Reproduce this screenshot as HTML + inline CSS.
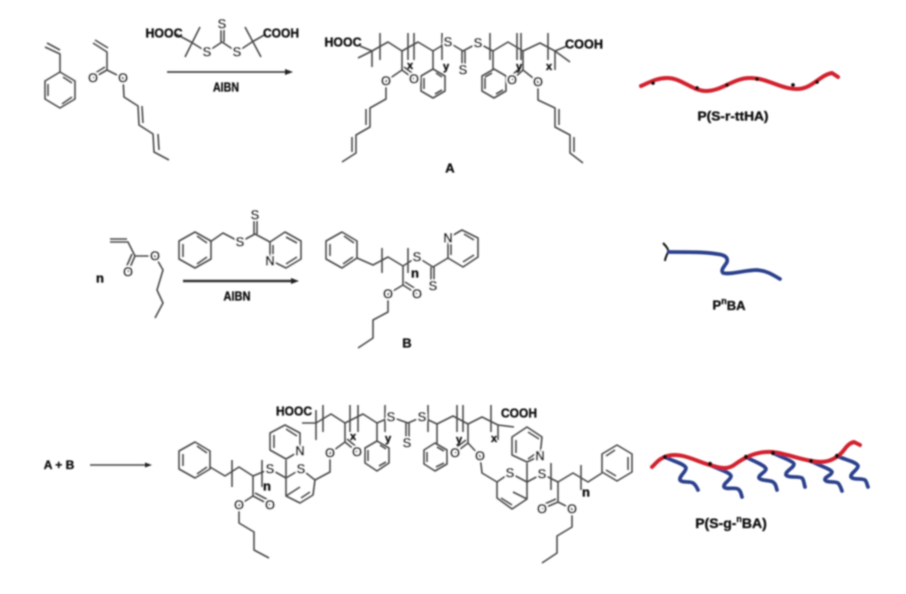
<!DOCTYPE html>
<html><head><meta charset="utf-8"><style>
html,body{margin:0;padding:0;background:#fff;width:906px;height:594px;overflow:hidden}
svg{display:block}
.b polyline,.b polygon,.b line{fill:none;stroke:#4a4a4a;stroke-width:1.6;stroke-linejoin:round}
.a text{font:bold 13.5px "Liberation Sans",sans-serif;fill:#111;text-anchor:middle;dominant-baseline:central;stroke:#fff;stroke-width:3px;paint-order:stroke}
.t text{font:bold 13px "Liberation Sans",sans-serif;fill:#111;stroke:#111;stroke-width:.35px;text-anchor:middle;dominant-baseline:central}
.t tspan.s{font-size:9px}
.red{fill:none;stroke:#d2232f;stroke-width:4;stroke-linecap:round;stroke-linejoin:round}
.blue{fill:none;stroke:#2b3f8c;stroke-width:3.7;stroke-linecap:round;stroke-linejoin:round}
</style></head><body>
<svg width="906" height="594" viewBox="0 0 906 594" xmlns="http://www.w3.org/2000/svg">
<defs><filter id="f" x="-2%" y="-2%" width="104%" height="104%"><feGaussianBlur stdDeviation="0.7"/></filter></defs>
<g filter="url(#f)">
<g class="b">
<!-- styrene -->
<polyline points="45,47 60,54 60,72"/><line x1="47" y1="43" x2="60" y2="50"/>
<polygon points="60,72 75,81 75,99 60,108 45,99 45,81"/>
<line x1="63" y1="77" x2="72" y2="83"/><line x1="72" y1="97" x2="62" y2="104"/><line x1="48" y1="84" x2="48" y2="96"/>
<!-- acrylate monomer -->
<polyline points="93,43 107,52 107,70 123,78 124,97 138,106 139,125 153,134 154,152 169,160"/>
<line x1="95" y1="40" x2="108" y2="48"/><line x1="107" y1="70" x2="93" y2="78"/><line x1="105" y1="67" x2="92" y2="75"/>
<line x1="142" y1="106" x2="143" y2="123"/><line x1="158" y1="134" x2="159" y2="150"/>
<!-- RAFT 1 -->
<polyline points="176,34 191,42 207,52 222,42 237,52 252,42 266,34"/>
<line x1="200" y1="27" x2="185" y2="57"/><line x1="245" y1="27" x2="261" y2="57"/>
<line x1="221" y1="42" x2="221" y2="24"/><line x1="224" y1="42" x2="224" y2="24"/>
<!-- product A -->
<polyline points="360,46 372,51 388,42 402,51 418,42 433,51 448,42 463,51 478,43 493,51 508,42 523,51 540,43 555,51 567,46"/>
<polyline points="358,58 372,51 372,67"/><polyline points="570,62 555,51 555,70"/>
<polyline points="380,33 380,60"/><polyline points="408,33 408,60"/><polyline points="414,33 414,60"/><polyline points="442,33 442,60"/>
<polyline points="490,33 490,60"/><polyline points="517,33 517,60"/><polyline points="521,33 521,60"/><polyline points="548,33 548,60"/>
<line x1="462" y1="51" x2="462" y2="68"/><line x1="465" y1="51" x2="465" y2="68"/>
<polyline points="402,51 402,70 386,81 386,99 370,108 370,127 356,135 356,153 342,162"/>
<line x1="402" y1="70" x2="414" y2="79"/><line x1="404" y1="67" x2="416" y2="76"/>
<line x1="366" y1="109" x2="366" y2="125"/><line x1="352" y1="137" x2="352" y2="152"/>
<polyline points="433,51 433,70"/>
<polygon points="433,69 445,76 445,91 433,98 421,91 421,76"/><line x1="436" y1="73" x2="442" y2="77"/><line x1="424" y1="78" x2="424" y2="89"/><line x1="435" y1="94" x2="442" y2="90"/>
<polyline points="493,51 493,70"/>
<polygon points="494,69 506,76 506,91 494,98 482,91 482,76"/><line x1="485" y1="78" x2="485" y2="89"/><line x1="492" y1="73" x2="485" y2="77"/><line x1="503" y1="90" x2="496" y2="94"/>
<polyline points="523,51 523,70 538,82 538,100 555,108 555,127 570,135 570,153 583,163"/>
<line x1="523" y1="70" x2="512" y2="80"/><line x1="521" y1="67" x2="510" y2="77"/>
<line x1="559" y1="109" x2="559" y2="125"/><line x1="574" y1="137" x2="574" y2="152"/>
<!-- butyl acrylate -->
<polyline points="110,242 128,242 135,256 155,256 163,270 157,290 163,303 155,318"/>
<line x1="110" y1="239" x2="127" y2="239"/><line x1="135" y1="256" x2="128" y2="272"/><line x1="132" y1="254" x2="125" y2="270"/>
<!-- RAFT 2 -->
<polygon points="195,232 211,241 211,259 195,268 179,259 179,241"/>
<line x1="183" y1="244" x2="183" y2="257"/><line x1="197" y1="236" x2="207" y2="243"/><line x1="207" y1="257" x2="197" y2="264"/>
<polyline points="210,242 223,233 240,242 255,234 270,242"/>
<line x1="254" y1="234" x2="254" y2="215"/><line x1="257" y1="234" x2="257" y2="215"/>
<polygon points="270,242 285,232 301,241 301,259 286,268 270,260"/>
<line x1="273" y1="245" x2="273" y2="257"/><line x1="286" y1="237" x2="297" y2="243"/><line x1="297" y1="257" x2="286" y2="264"/>
<!-- product B -->
<polygon points="342,232 357,241 357,258 342,268 326,259 326,241"/>
<line x1="330" y1="244" x2="330" y2="256"/><line x1="344" y1="236" x2="354" y2="243"/><line x1="353" y1="257" x2="343" y2="264"/>
<polyline points="357,258 373,265 388,257 403,266 417,257 433,267 448,258"/>
<line x1="382" y1="248" x2="382" y2="273"/><line x1="408" y1="248" x2="408" y2="273"/>
<polyline points="403,266 403,285 388,294 388,312 373,320 373,338 358,348"/>
<line x1="403" y1="285" x2="417" y2="294"/><line x1="405" y1="282" x2="419" y2="291"/>
<line x1="431" y1="267" x2="431" y2="285"/><line x1="434" y1="267" x2="434" y2="285"/>
<polygon points="448,238 462,230 478,238 478,257 463,267 448,258"/>
<line x1="451" y1="243" x2="451" y2="255"/><line x1="464" y1="234" x2="474" y2="240"/><line x1="474" y1="255" x2="463" y2="262"/>
<!-- bottom product: center -->
<polyline points="302,423 316,423 331,414 345,423 363,414 377,423 391,417 408,423 422,417 437,424 453,416 468,424 482,417 498,425 514,427"/>
<line x1="316" y1="410" x2="316" y2="440"/><line x1="498" y1="425" x2="498" y2="440"/>
<line x1="323" y1="405" x2="323" y2="432"/><line x1="350" y1="405" x2="350" y2="432"/><line x1="358" y1="405" x2="358" y2="432"/><line x1="385" y1="405" x2="385" y2="432"/>
<line x1="428" y1="405" x2="428" y2="432"/><line x1="457" y1="405" x2="457" y2="432"/><line x1="463" y1="405" x2="463" y2="432"/><line x1="491" y1="405" x2="491" y2="432"/>
<line x1="406" y1="423" x2="406" y2="443"/><line x1="409" y1="423" x2="409" y2="443"/>
<!-- left ester + ring -->
<polyline points="345,423 345,442 330,453 330,472 315,480 313,495 300,503 286,496 286,478 301,469 315,480"/>
<line x1="345" y1="442" x2="357" y2="452"/><line x1="347" y1="439" x2="359" y2="449"/>
<line x1="310" y1="492" x2="301" y2="498"/><line x1="286" y1="496" x2="300" y2="487"/>
<polyline points="377,423 377,442"/>
<polygon points="377,441 389,448 389,463 377,471 365,463 365,448"/><line x1="368" y1="450" x2="368" y2="461"/><line x1="380" y1="445" x2="386" y2="449"/><line x1="386" y1="462" x2="379" y2="466"/>
<polyline points="286,478 286,460"/>
<polygon points="286,459 270,450 270,433 285,425 300,433 300,451"/>
<line x1="274" y1="435" x2="274" y2="448"/><line x1="286" y1="429" x2="297" y2="436"/>
<polyline points="286,478 270,469 253,476 239,467 225,476 210,467"/>
<line x1="262" y1="460" x2="262" y2="487"/><line x1="232" y1="460" x2="232" y2="487"/>
<polygon points="195,442 210,451 210,469 195,478 179,469 179,451"/>
<line x1="183" y1="454" x2="183" y2="466"/><line x1="197" y1="446" x2="207" y2="453"/><line x1="207" y1="467" x2="197" y2="474"/>
<polyline points="253,476 253,496 239,505 239,523 254,532 254,550 269,558"/>
<line x1="253" y1="496" x2="270" y2="505"/><line x1="255" y1="493" x2="272" y2="502"/>
<!-- right ester + ring -->
<polyline points="437,424 437,445"/>
<polygon points="435,443 447,450 447,464 435,471 424,464 424,450"/><line x1="427" y1="452" x2="427" y2="462"/><line x1="437" y1="447" x2="444" y2="451"/><line x1="444" y1="463" x2="436" y2="467"/>
<polyline points="468,424 468,443 480,456 482,473 497,482 510,473 527,482 527,499 512,509 497,498 497,482"/>
<line x1="468" y1="443" x2="455" y2="453"/><line x1="466" y1="440" x2="453" y2="450"/>
<line x1="501" y1="498" x2="512" y2="505"/><line x1="527" y1="499" x2="513" y2="492"/>
<polyline points="527,482 527,463"/>
<polygon points="527,462 512,455 512,437 527,427 542,437 540,456"/>
<line x1="516" y1="440" x2="516" y2="453"/><line x1="528" y1="432" x2="539" y2="439"/><line x1="528" y1="459" x2="538" y2="452"/>
<polyline points="527,482 542,474 558,482 573,473 588,482 602,473"/>
<line x1="551" y1="463" x2="551" y2="490"/><line x1="581" y1="465" x2="581" y2="490"/>
<polygon points="617,445 632,454 632,472 617,481 602,472 602,454"/>
<line x1="628" y1="457" x2="628" y2="470"/><line x1="606" y1="456" x2="615" y2="450"/><line x1="606" y1="470" x2="616" y2="476"/>
<polyline points="558,482 558,502 572,509 572,527 557,536 557,553 542,563"/>
<line x1="558" y1="502" x2="542" y2="509"/><line x1="556" y1="499" x2="540" y2="506"/>
</g>
<!-- reaction arrows -->
<line x1="167" y1="72" x2="288" y2="72" stroke="#444" stroke-width="1.7"/><polygon points="285,69 293,72 285,75" fill="#222"/>
<line x1="183" y1="281" x2="294" y2="281" stroke="#333" stroke-width="2.4"/><polygon points="291,278 299,281 291,284" fill="#222"/>
<line x1="90" y1="465" x2="147" y2="465" stroke="#444" stroke-width="1.5"/><polygon points="145,462.5 152,465 145,467.5" fill="#222"/>
<!-- atoms -->
<g class="a">
<text x="93" y="78">O</text><text x="123" y="78">O</text>
<text x="207" y="52">S</text><text x="237" y="52">S</text><text x="222" y="24">S</text>
<text x="386" y="81">O</text><text x="414" y="79">O</text><text x="448" y="42">S</text><text x="478" y="43">S</text><text x="463" y="70">S</text><text x="512" y="80">O</text><text x="538" y="82">O</text>
<text x="128" y="272">O</text><text x="155" y="256">O</text>
<text x="240" y="242">S</text><text x="255" y="215">S</text><text x="270" y="261">N</text>
<text x="417" y="257">S</text><text x="433" y="286">S</text><text x="448" y="238">N</text><text x="388" y="294">O</text><text x="417" y="294">O</text>
<text x="391" y="417">S</text><text x="422" y="417">S</text><text x="407" y="443">S</text>
<text x="357" y="452">O</text><text x="330" y="453">O</text><text x="301" y="469">S</text><text x="270" y="469">S</text><text x="300" y="451">N</text>
<text x="239" y="505">O</text><text x="270" y="505">O</text>
<text x="455" y="453">O</text><text x="480" y="456">O</text><text x="510" y="473">S</text><text x="540" y="456">N</text><text x="542" y="474">S</text>
<text x="542" y="509">O</text><text x="572" y="509">O</text>
</g>
<g class="t">
<text x="164" y="33" textLength="37" lengthAdjust="spacingAndGlyphs">HOOC</text>
<text x="281" y="33" textLength="36" lengthAdjust="spacingAndGlyphs">COOH</text>
<text x="226" y="87" textLength="26" lengthAdjust="spacingAndGlyphs">AIBN</text>
<text x="343" y="42" textLength="37" lengthAdjust="spacingAndGlyphs">HOOC</text>
<text x="584" y="44" textLength="38" lengthAdjust="spacingAndGlyphs">COOH</text>
<text x="410" y="66" style="font-size:11px">x</text><text x="446" y="67" style="font-size:11px">y</text><text x="519" y="67" style="font-size:11px">y</text><text x="549" y="67" style="font-size:11px">x</text>
<text x="450" y="168">A</text>
<text x="733" y="116" textLength="71" lengthAdjust="spacingAndGlyphs">P(S-r-ttHA)</text>
<text x="100" y="278">n</text>
<text x="237" y="296" textLength="27" lengthAdjust="spacingAndGlyphs">AIBN</text>
<text x="415" y="273">n</text>
<text x="407" y="343">B</text>
<text x="729" y="305">P<tspan class="s" dy="-4">n</tspan><tspan dy="4">BA</tspan></text>
<text x="59" y="465" style="font-size:12px">A + B</text>
<text x="294" y="411" textLength="36" lengthAdjust="spacingAndGlyphs">HOOC</text>
<text x="519" y="413" textLength="36" lengthAdjust="spacingAndGlyphs">COOH</text>
<text x="353" y="437" style="font-size:11px">x</text><text x="388" y="439" style="font-size:11px">y</text><text x="459" y="440" style="font-size:11px">y</text><text x="494" y="439" style="font-size:11px">x</text>
<text x="267" y="486">n</text><text x="586" y="492">n</text>
<text x="731" y="523" style="font-size:14px">P(S-g-<tspan class="s" dy="-4">n</tspan><tspan dy="4">BA)</tspan></text>
</g>
<!-- cartoons -->
<path class="red" d="M641,86 C650,82 657,78 667,78 C682,78 692,91 706,91 C722,91 733,78 750,78 C768,78 780,89 797,89 C812,89 820,75 832,73 L838,77"/>
<g fill="#111"><circle cx="653" cy="83" r="1.9"/><circle cx="697" cy="88" r="1.9"/><circle cx="727" cy="85" r="1.9"/><circle cx="757" cy="79" r="1.9"/><circle cx="793" cy="85" r="1.9"/><circle cx="817" cy="82" r="1.9"/></g>
<path d="M663,243 C667,247 669,250 668,252 C667,255 665,258 665,261" fill="none" stroke="#111" stroke-width="2"/>
<path class="blue" d="M669,252 C690,252 705,252 717,254 C726,255 728,258 727,262 C725,266 720,270 723,273 C730,275 745,270 757,270 C768,271 773,275 780,279"/>
<g class="blue">
<path d="M665,457 C675,462 685,464 686,468 C686,472 679,476 680,480 C682,483 690,481 693,483 C696,485 697,488 698,490"/>
<path d="M710,465 C720,470 730,472 731,476 C731,480 723,483 724,487 C726,490 735,487 738,489 C741,491 741,494 742,497"/>
<path d="M746,457 C755,462 765,465 766,469 C766,472 758,475 759,478 C761,481 770,480 773,482 C776,484 776,487 777,490"/>
<path d="M773,453 C783,458 793,461 794,464 C794,468 785,471 786,475 C788,478 799,476 802,478 C804,480 804,484 805,487"/>
<path d="M811,461 C820,466 831,469 832,472 C832,475 824,477 825,480 C827,483 835,481 838,483 C840,485 841,488 842,491"/>
<path d="M837,456 C846,460 857,462 858,466 C858,470 850,473 851,477 C853,480 862,478 865,480 C867,482 867,485 868,487"/>
</g>
<path class="red" d="M652,467 C657,462 660,458 667,456 C682,452 695,461 710,465 C720,468 727,470 734,465 C745,457 757,451 772,452 C785,453 798,459 812,461 C822,463 830,462 838,456 C845,451 846,444 854,442 L860,445"/>
<g fill="#111"><circle cx="665" cy="457" r="2.2"/><circle cx="710" cy="464" r="2.2"/><circle cx="746" cy="457" r="2.2"/><circle cx="773" cy="453" r="2.2"/><circle cx="811" cy="461" r="2.2"/><circle cx="837" cy="456" r="2.2"/></g>
</g>
</svg>
</body></html>
